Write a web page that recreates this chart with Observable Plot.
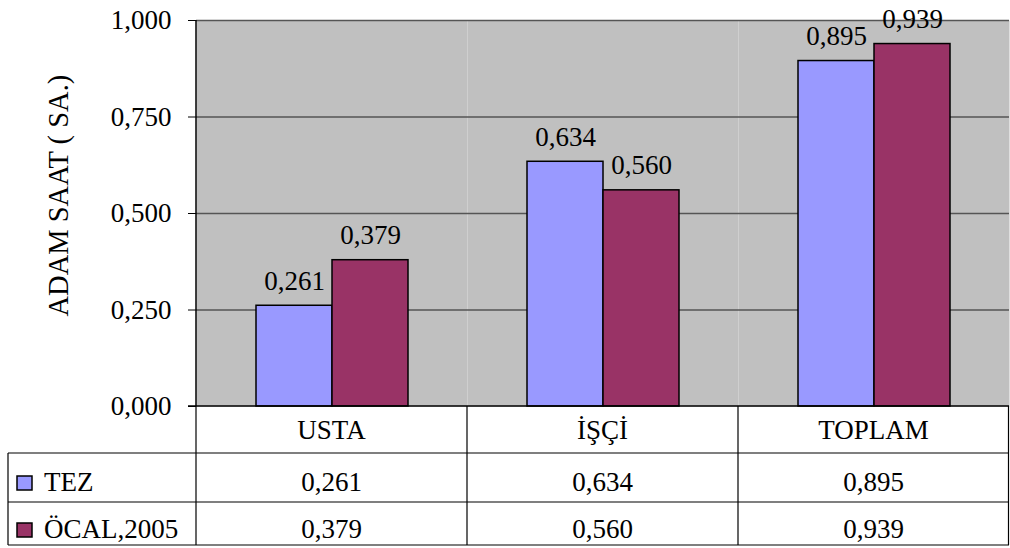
<!DOCTYPE html>
<html>
<head>
<meta charset="utf-8">
<script src="https://cdn.jsdelivr.net/npm/d3@7"></script>
<script src="https://cdn.jsdelivr.net/npm/@observablehq/plot@0.6"></script>
<style>
  html, body { margin: 0; padding: 0; background: #fff; }
  svg { display: block; }
  #chart svg text {
    font-family: 'Liberation Serif', 'Times New Roman', serif !important;
    font-size: 27px;
    fill: #000;
  }
  #chart svg text.ylabel { font-size: 28.5px; }
</style>
</head>
<body>
<div id="chart"></div>
<script>
const categories = ["USTA", "İŞÇİ", "TOPLAM"];
const seriesNames = ["TEZ", "ÖCAL,2005"];
const seriesColors = ["#9999ff", "#993366"];
const tezValues = [0.261, 0.634, 0.895];
const ocalValues = [0.379, 0.560, 0.939];
const yTicks = [0, 0.25, 0.5, 0.75, 1];
const yLabel = "ADAM SAAT ( SA.)";

const fmt = v => d3.format(".3f")(v).replace(".", ",");

const data = [];
categories.forEach((c, i) => {
  data.push({cat: c, series: seriesNames[0], value: tezValues[i]});
  data.push({cat: c, series: seriesNames[1], value: ocalValues[i]});
});

const chart = Plot.plot({
  width: 1010,
  height: 548,
  marginTop: 20,
  marginBottom: 142,
  marginLeft: 195,
  marginRight: 0,
  style: {fontFamily: "'Liberation Serif', serif", fontSize: "27px"},
  fx: {domain: categories, padding: 0, axis: null},
  x: {domain: seriesNames, paddingInner: 0, paddingOuter: 0.77, axis: null},
  y: {
    domain: [0, 1],
    ticks: yTicks,
    tickFormat: fmt,
    tickSize: 8,
    tickPadding: 17,
    label: null
  },
  color: {domain: seriesNames, range: seriesColors},
  marks: [
    Plot.frame({fill: "#c0c0c0"}),
    Plot.ruleY(yTicks.filter(d => d > 0), {stroke: "#555", strokeWidth: 1.5}),
    Plot.barY(data, {fx: "cat", x: "series", y: "value", fill: "series", stroke: "#000", strokeWidth: 1.5}),
    Plot.text(data, {fx: "cat", x: "series", y: "value", text: d => fmt(d.value), lineAnchor: "bottom", dy: -16, fill: "#000"})
  ]
});

document.getElementById("chart").appendChild(chart);

// Data table and axis title, positioned with Plot's own scales
const svg = d3.select(chart);
const fx = chart.scale("fx");
const y = chart.scale("y");
const x0 = fx.apply(categories[0]);
const step = fx.bandwidth;
const right = x0 + step * categories.length;
const base = y.apply(0);
const tableLeft = 8;
const lineYs = [base + 47, base + 96, base + 139];
const rowBaselines = [base + 33, base + 85, base + 132];
const g = svg.append("g");

// y axis title
const ly = y.apply(0.545);
g.append("text").attr("class", "ylabel")
  .attr("transform", `translate(68,${ly}) rotate(-90)`)
  .attr("text-anchor", "middle").text(yLabel);

// axis lines
g.append("line").attr("x1", x0).attr("x2", x0).attr("y1", y.apply(1)).attr("y2", base).attr("stroke", "#000").attr("stroke-width", 1.5);
g.append("line").attr("x1", x0 - 8).attr("x2", right).attr("y1", base).attr("y2", base).attr("stroke", "#000").attr("stroke-width", 1.5);

// horizontal table lines
lineYs.forEach(yy => {
  g.append("line").attr("x1", tableLeft).attr("x2", right)
    .attr("y1", yy).attr("y2", yy)
    .attr("stroke", "#000").attr("stroke-width", 1.2);
});
const bottom = lineYs[2];
// vertical table lines
g.append("line").attr("x1", tableLeft).attr("x2", tableLeft).attr("y1", lineYs[0]).attr("y2", bottom).attr("stroke", "#000").attr("stroke-width", 1.2);
categories.forEach(c => {
  const xx = fx.apply(c);
  g.append("line").attr("x1", xx).attr("x2", xx).attr("y1", base).attr("y2", bottom).attr("stroke", "#000").attr("stroke-width", 1.2);
});
g.append("line").attr("x1", right - 0.5).attr("x2", right - 0.5).attr("y1", base).attr("y2", bottom).attr("stroke", "#000").attr("stroke-width", 1.2);

// category row
categories.forEach(c => {
  g.append("text").attr("x", fx.apply(c) + step / 2).attr("y", rowBaselines[0])
    .attr("text-anchor", "middle").text(c);
});
// series rows
const seriesValues = [tezValues, ocalValues];
seriesNames.forEach((s, si) => {
  const by = rowBaselines[si + 1];
  g.append("rect").attr("x", 17).attr("y", by - 15).attr("width", 15).attr("height", 14)
    .attr("fill", seriesColors[si]).attr("stroke", "#000").attr("stroke-width", 1.5);
  g.append("text").attr("x", 44).attr("y", by).attr("text-anchor", "start").text(s);
  categories.forEach((c, ci) => {
    g.append("text").attr("x", fx.apply(c) + step / 2).attr("y", by)
      .attr("text-anchor", "middle").text(fmt(seriesValues[si][ci]));
  });
});
</script>
</body>
</html>
